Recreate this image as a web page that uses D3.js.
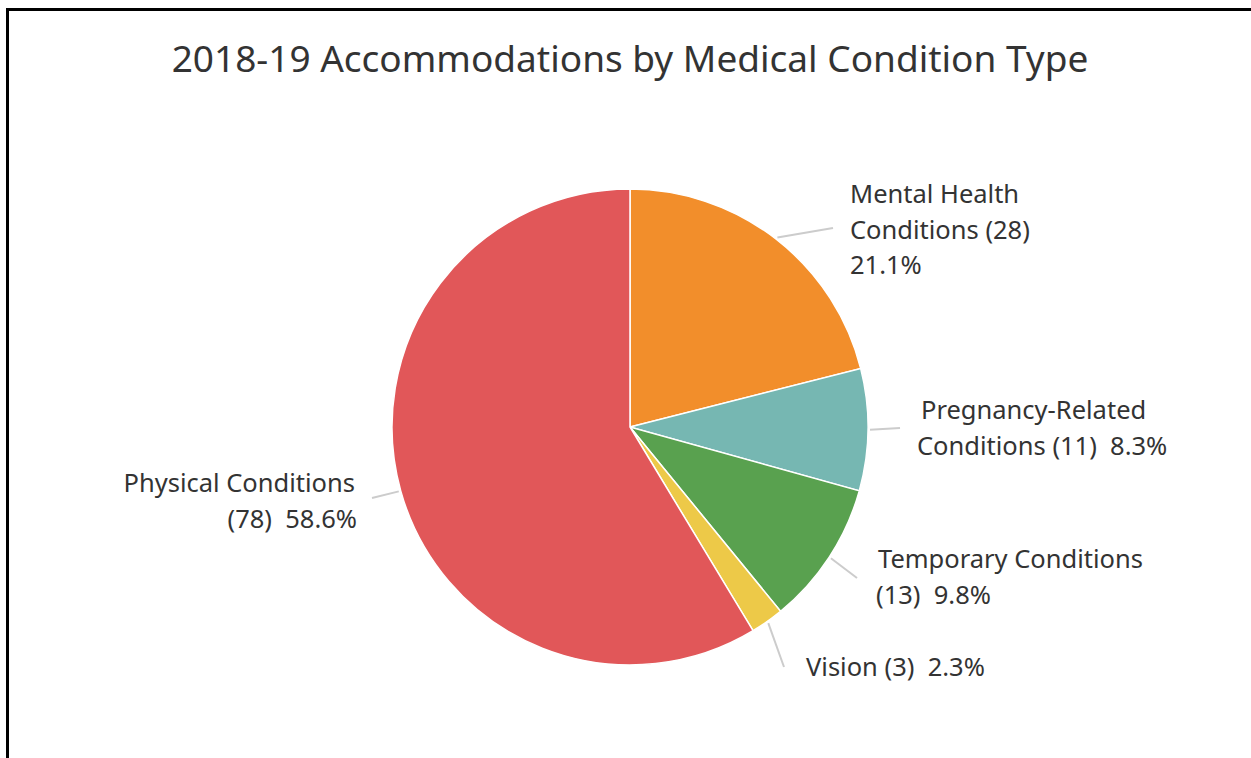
<!DOCTYPE html>
<html>
<head>
<meta charset="utf-8">
<script src="https://cdn.jsdelivr.net/npm/d3@7"></script>
<style>
  body { margin: 0; background: #fff; }
  text { font-family: "Noto Sans", "Open Sans", sans-serif; fill: #333; white-space: pre; }
</style>
</head>
<body>
<div id="chart"></div>
<script>
// data
var categories = ["Mental Health Conditions", "Pregnancy-Related Conditions", "Temporary Conditions", "Vision", "Physical Conditions"];
var counts = [28, 11, 13, 3, 78];
var percents = ["21.1%", "8.3%", "9.8%", "2.3%", "58.6%"];
var colors = ["#F28E2B", "#76B7B2", "#59A14F", "#EDC948", "#E15759"];
var labelLines = [
    ["Mental Health", "Conditions (28)", "21.1%"],
    ["Pregnancy-Related", "Conditions (11)  8.3%"],
    ["Temporary Conditions", "(13)  9.8%"],
    ["Vision (3)  2.3%"],
    ["Physical Conditions", "(78)  58.6%"]
];

// label layout (leader end + text anchor), tableau-ish placement
var labelLayout = [
    {lx: 833, ly: 228, ty: 203, anchor: "start", xs: [850, 850, 850]},
    {lx: 900, ly: 428, ty: 419, anchor: "start", xs: [921, 917]},
    {lx: 857, ly: 578, ty: 568, anchor: "start", xs: [878, 876]},
    {lx: 784, ly: 667, ty: 676, anchor: "start", xs: [806]},
    {lx: 372, ly: 498, ty: 492, anchor: "end", xs: [355, 357]}
];

var width = 1251, height = 758;
var cx = 630, cy = 427, radius = 238;

var svg = d3.select("#chart")
    .append("svg")
    .attr("width", width)
    .attr("height", height)

// frame
svg.append("path")
    .attr("d", "M7.5," + height + " L7.5,9.5 L" + width + ",9.5")
    .attr("fill", "none")
    .attr("stroke", "#000")
    .attr("stroke-width", 3)

svg.append("text")
    .attr("x", cx)
    .attr("y", 72)
    .attr("text-anchor", "middle")
    .style("font-size", "37px")
    .text("2018-19 Accommodations by Medical Condition Type")

var pie = d3.pie()
    .sort(null)
    .value(function(d) { return d; })

var arc = d3.arc()
    .innerRadius(0)
    .outerRadius(radius);

var arcs = pie(counts)

var g = svg.append("g")
    .attr("transform", "translate(" + cx + "," + cy + ")")

g.selectAll(null)
    .data(arcs)
    .enter()
    .append("path")
    .attr("d", arc)
    .attr("fill", function(d, i) { return colors[i]; })
    .attr("stroke", "#fff")
    .attr("stroke-width", 1.5)

// leader lines start at the slice's mid angle, just outside the rim
arcs.forEach(function(d, i) {
    var a = (d.startAngle + d.endAngle) / 2
    var sx = cx + (radius + 2) * Math.sin(a)
    var sy = cy - (radius + 2) * Math.cos(a)
    var L = labelLayout[i]
    svg.append("line")
        .attr("x1", sx).attr("y1", sy)
        .attr("x2", L.lx).attr("y2", L.ly)
        .attr("stroke", "#cccccc")
        .attr("stroke-width", 2)

    var t = svg.append("text")
        .attr("text-anchor", L.anchor)
        .style("font-size", "25.5px")
    labelLines[i].forEach(function(line, j) {
        t.append("tspan")
            .attr("x", L.xs[j])
            .attr("y", L.ty + j * 35.5)
            .text(line)
    })
})
</script>
</body>
</html>
